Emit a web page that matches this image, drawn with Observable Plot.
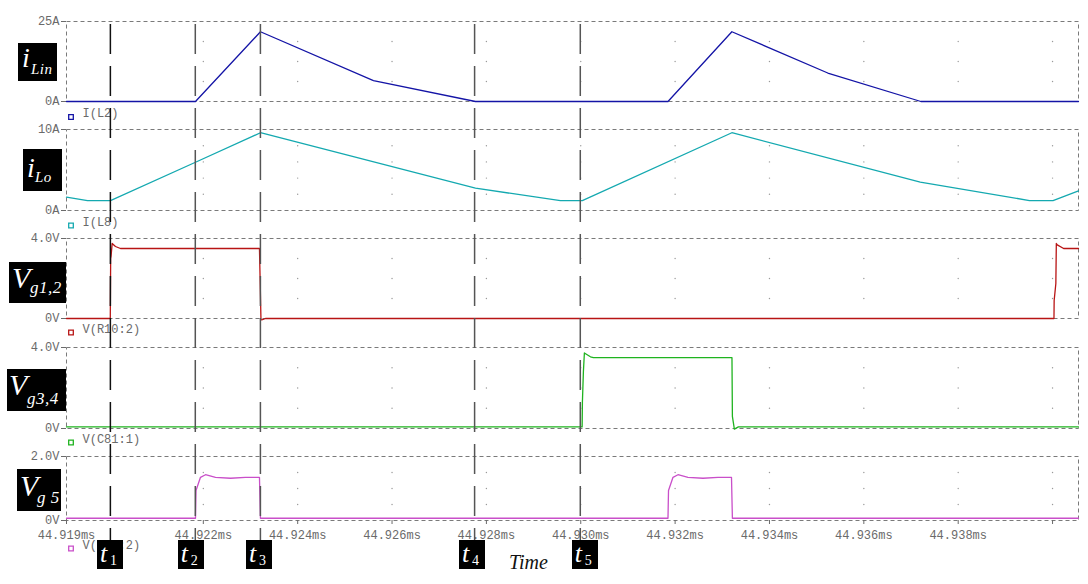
<!DOCTYPE html>
<html><head><meta charset="utf-8">
<script src="https://cdn.jsdelivr.net/npm/d3@7"></script>
<script src="https://cdn.jsdelivr.net/npm/@observablehq/plot@0.6"></script>
<style>
html,body{margin:0;padding:0;background:#fff;overflow:hidden;}
#root{position:relative;width:1088px;height:584px;}
#panels svg{display:block;}
.box{position:absolute;background:#000;color:#fff;font-family:"Liberation Serif","DejaVu Serif",serif;font-style:italic;white-space:nowrap;}
.box span{position:absolute;line-height:1;}
.ttl{position:absolute;font-family:"Liberation Serif",serif;font-style:italic;color:#111;line-height:1;white-space:nowrap;}
</style></head><body><div id="root"><div id="panels"></div></div>
<script>
// ---------- data ----------
const xDomain = [44.9191, 44.94055];
const xTickValues = [44.9191, 44.922, 44.924, 44.926, 44.928, 44.930, 44.932, 44.934, 44.936, 44.938, 44.940];
const xTickLabels = ["44.919ms","44.922ms","44.924ms","44.926ms","44.928ms","44.930ms","44.932ms","44.934ms","44.936ms","44.938ms",""];
const gridTimes = [44.922, 44.924, 44.926, 44.928, 44.930, 44.932, 44.934, 44.936, 44.938, 44.940];

const iLinTime  = [44.9191, 44.921834, 44.923211, 44.925606, 44.927768, 44.931849, 44.933203, 44.935236, 44.937209, 44.94055];
const iLinValue = [0, 0, 21.8, 6.5, 0, 0, 21.8, 8.9, 0, 0];
const iLinTicks = [0, 25];
const iLinTickLabels = ["0A", "25A"];
const iLinGrid = [6.25, 12.5, 18.75];

const iLoTime  = [44.9191, 44.919545, 44.920032, 44.921834, 44.923211, 44.927768, 44.929569, 44.930033, 44.933203, 44.937196, 44.939512, 44.94001, 44.94055];
const iLoValue = [1.65, 1.23, 1.23, 5.96, 9.6, 2.75, 1.23, 1.23, 9.6, 3.5, 1.23, 1.23, 2.42];
const iLoTicks = [0, 10];
const iLoTickLabels = ["0A", "10A"];
const iLoGrid = [2, 4, 6, 8];

const vg12Time  = [44.9191, 44.920028, 44.920036, 44.920044, 44.920068, 44.920138, 44.920244, 44.923190, 44.923222, 44.923255, 44.923317, 44.940030, 44.940034, 44.940070, 44.940080, 44.940100, 44.940235, 44.94055];
const vg12Value = [0.0, 0.0, 3.0, 3.1, 3.75, 3.6, 3.5, 3.5, -0.07, -0.06, 0.0, 0.0, 0.9, 1.75, 3.75, 3.68, 3.5, 3.5];
const vg12Ticks = [0, 4];
const vg12TickLabels = ["0V", "4.0V"];
const vg12Grid = [1, 2, 3];

const vg34Time  = [44.9191, 44.930029, 44.930035, 44.930056, 44.930077, 44.930205, 44.930268, 44.933205, 44.933214, 44.933256, 44.933341, 44.94055];
const vg34Value = [0.08, 0.08, 1.3, 2.8, 3.73, 3.54, 3.5, 3.5, 0.6, -0.03, 0.08, 0.08];
const vg34Ticks = [0, 4];
const vg34TickLabels = ["0V", "4.0V"];
const vg34Grid = [1, 2, 3];

const vg5Time  = [44.9191, 44.921834, 44.921845, 44.92194, 44.922046, 44.922258, 44.922576, 44.922893, 44.92319, 44.923211, 44.931849, 44.931860, 44.931955, 44.932061, 44.932273, 44.932591, 44.932909, 44.933195, 44.933214, 44.94055];
const vg5Value = [0.07, 0.07, 0.94, 1.35, 1.43, 1.35, 1.32, 1.35, 1.35, 0.07, 0.07, 0.94, 1.35, 1.43, 1.35, 1.32, 1.35, 1.35, 0.07, 0.07];
const vg5Ticks = [0, 2];
const vg5TickLabels = ["0V", "2.0V"];
const vg5Grid = [0.5, 1, 1.5];

const legendNames = ["I(L2)", "I(L8)", "V(R10:2)", "V(C81:1)", "V(R11:2)"];
const boxMain = ["i", "i", "V", "V", "V"];
const boxSub = ["Lin", "Lo", "g1,2", "g3,4", "g 5"];
const eventTimes = [44.92003, 44.92183, 44.92321, 44.92775, 44.92999];
const eventNames = ["1", "2", "3", "4", "5"];
const axisTitle = "Time";

// ---------- layout / style ----------
const W = 1088, ML = 66, MR = 10;
const colors = ["#1414a6", "#14a9b0", "#b81414", "#1fb31f", "#c94fc9"];
const panelLayout = [
  {height:119, mt:21, mb:18, ldy:15.5},
  {height:109, mt:10, mb:18, ldy:15},
  {height:108, mt:10, mb:18, ldy:14},
  {height:109, mt:11, mb:17, ldy:14},
  {height:139, mt:11, mb:64, ldy:28}
];
const series = [
  {t:iLinTime, v:iLinValue, ticks:iLinTicks, labels:iLinTickLabels, grid:iLinGrid},
  {t:iLoTime, v:iLoValue, ticks:iLoTicks, labels:iLoTickLabels, grid:iLoGrid},
  {t:vg12Time, v:vg12Value, ticks:vg12Ticks, labels:vg12TickLabels, grid:vg12Grid},
  {t:vg34Time, v:vg34Value, ticks:vg34Ticks, labels:vg34TickLabels, grid:vg34Grid},
  {t:vg5Time, v:vg5Value, ticks:vg5Ticks, labels:vg5TickLabels, grid:vg5Grid}
];
const boxLayout = [
  {l:18, t:43, w:39, h:38, mfs:28, ml:4, mb:25, sfs:15, sl:13, sb:32},
  {l:23, t:149, w:39, h:42, mfs:28, ml:4, mb:29, sfs:15, sl:12, sb:34},
  {l:9, t:262, w:57, h:41, mfs:30, ml:3, mb:26, sfs:17, sl:21, sb:31},
  {l:7, t:369, w:59, h:42, mfs:30, ml:2, mb:26, sfs:17, sl:20, sb:35},
  {l:17, t:469, w:44, h:42, mfs:30, ml:3, mb:27, sfs:17, sl:20, sb:34}
];

const panelsDiv = document.getElementById("panels");
const root = document.getElementById("root");
const baseStyle = {fontFamily:"'Liberation Mono', monospace", fontSize:"12px", color:"#6a6a6a", background:"transparent", overflow:"visible"};

series.forEach((s, k) => {
  const L = panelLayout[k];
  const last = k === series.length - 1;
  const marks = [
    Plot.frame({stroke:"#7a7a7a", strokeDasharray:"4,3"}),
    Plot.dot(d3.cross(gridTimes, s.grid), {x:d=>d[0], y:d=>d[1], r:0.7, fill:"#9a9a9a"}),
    Plot.axisY({ticks:s.ticks, tickFormat:d=>s.labels[s.ticks.indexOf(d)], tickSize:5, tickPadding:2, label:null}),
    Plot.line(s.t, {x:s.t, y:s.v, stroke:colors[k], strokeWidth:1.3}),
    Plot.dot([0], {frameAnchor:"bottom-left", dx:4.5, dy:L.ldy, symbol:"square", r:2.6, stroke:colors[k], fill:"none", strokeWidth:1.3}),
    Plot.text([legendNames[k]], {text:d=>d, frameAnchor:"bottom-left", dx:16, dy:L.ldy, textAnchor:"start", fill:"#6a6a6a"})
  ];
  if (last) marks.push(Plot.axisX({ticks:xTickValues, tickFormat:d=>xTickLabels[xTickValues.indexOf(d)], tickSize:4, tickPadding:6, label:null}));
  const p = Plot.plot({
    width:W, height:L.height, marginLeft:ML, marginRight:MR, marginTop:L.mt, marginBottom:L.mb,
    style:baseStyle,
    x: last ? {domain:xDomain} : {domain:xDomain, axis:null},
    y: {domain:[s.ticks[0], s.ticks[1]]},
    marks
  });
  panelsDiv.appendChild(p);
});

// overlay with the event lines
const overlay = Plot.plot({
  width:W, height:584, marginLeft:ML, marginRight:MR, marginTop:24, marginBottom:22,
  style:{...baseStyle},
  x:{domain:xDomain, axis:null},
  marks:[
    Plot.ruleX(eventTimes, {stroke:(d,i)=>i===0?"#111":"#555", strokeWidth:1.5, strokeDasharray:"30,12"})
  ]
});
overlay.style.position = "absolute"; overlay.style.left = "0px"; overlay.style.top = "0px"; overlay.style.pointerEvents = "none";
root.appendChild(overlay);

// y label boxes
boxLayout.forEach((b, k) => {
  const d = document.createElement("div");
  d.className = "box";
  Object.assign(d.style, {left:b.l+"px", top:b.t+"px", width:b.w+"px", height:b.h+"px"});
  const m = document.createElement("span");
  m.textContent = boxMain[k];
  Object.assign(m.style, {fontSize:b.mfs+"px", left:b.ml+"px", top:(b.mb - 0.84*b.mfs)+"px"});
  const s = document.createElement("span");
  s.textContent = boxSub[k];
  Object.assign(s.style, {fontSize:b.sfs+"px", left:b.sl+"px", top:(b.sb - 0.84*b.sfs)+"px", letterSpacing:"0.5px"});
  d.appendChild(m); d.appendChild(s);
  root.appendChild(d);
});

// event boxes t1..t5 placed through the x scale
const xs = overlay.scale("x");
const tdx = [0, -4, -1, -2, 5];
eventTimes.forEach((t, k) => {
  const cx = xs.apply(t) + tdx[k];
  const d = document.createElement("div");
  d.className = "box";
  Object.assign(d.style, {left:(cx-13)+"px", top:"540px", width:"26px", height:"29px"});
  const m = document.createElement("span");
  m.textContent = "t";
  Object.assign(m.style, {fontSize:"26px", left:"3px", top:(23 - 0.84*26)+"px"});
  const s = document.createElement("span");
  s.textContent = eventNames[k];
  Object.assign(s.style, {fontSize:"14px", left:"13px", top:(26 - 0.84*14)+"px", fontStyle:"normal"});
  d.appendChild(m); d.appendChild(s);
  root.appendChild(d);
});

const tt = document.createElement("div");
tt.className = "ttl";
tt.textContent = axisTitle;
Object.assign(tt.style, {left:"509px", top:(569 - 0.84*20)+"px", fontSize:"20px"});
root.appendChild(tt);
</script></body></html>
